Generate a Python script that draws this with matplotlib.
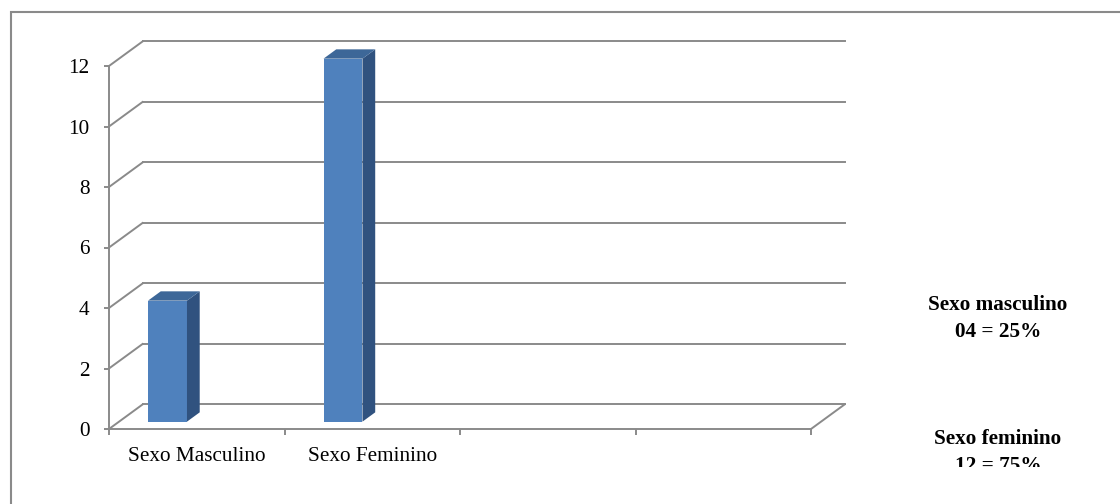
import matplotlib.pyplot as plt
import matplotlib.patches as mpatches
from matplotlib.transforms import Bbox, TransformedBbox
import numpy as np

plt.rcParams["font.family"] = ["Liberation Serif", "DejaVu Serif"]

categorias = ["Sexo Masculino", "Sexo Feminino"]
valores = [4, 12]
n_slots = 4
y_ticks = [0, 2, 4, 6, 8, 10, 12]
notas = [("Sexo masculino", "04 = 25%"), ("Sexo feminino", "12 = 75%")]

GRIS = "#8a8a8a"
AZUL = "#4f81bd"
AZUL_LADO = "#30527f"
AZUL_TOPE = "#3d6798"

# profundidad de la caja 3D en unidades de datos
DX, DY = 0.191, 0.81

fig = plt.figure(figsize=(11.2, 5.04), dpi=100)
ax = fig.add_axes([0, 0, 1, 1])
ax.set_xlim(-109 / 175.5, (1120 - 109) / 175.5)
ax.set_ylim(-75 / 30.25, (504 - 75) / 30.25)
ax.patch.set_alpha(0)

for s in ["top", "right"]:
    ax.spines[s].set_visible(False)
ax.spines["left"].set_position(("data", 0))
ax.spines["bottom"].set_position(("data", 0))
ax.spines["left"].set_bounds(0, max(y_ticks))
ax.spines["bottom"].set_bounds(0, n_slots)
for s in ["left", "bottom"]:
    ax.spines[s].set_color(GRIS)
    ax.spines[s].set_linewidth(1.4)

ax.set_yticks(y_ticks)
ax.tick_params(axis="y", length=3.6, width=1.4, color=GRIS, pad=10.6, labelsize=15.3)
ax.set_xticks(range(n_slots + 1))
ax.set_xticklabels([])
ax.tick_params(axis="x", which="major", length=4.5, width=1.4, color=GRIS)
ax.set_xticks(np.arange(len(categorias)) + 0.5, minor=True)
ax.set_xticklabels(categorias, minor=True)
ax.tick_params(axis="x", which="minor", length=0, pad=13.3, labelsize=15.3)

# paredes: lineas de fondo y diagonales laterales
for v in y_ticks:
    ax.plot([DX, n_slots + DX], [v + DY, v + DY], color=GRIS, lw=1.4, zorder=1)
    ax.plot([0, DX], [v, v + DY], color=GRIS, lw=1.4, zorder=1)
ax.plot([n_slots, n_slots + DX], [0, DY], color=GRIS, lw=1.4, zorder=1)

# barras con cara frontal, lateral y superior
f, g = 0.30, 0.38
bw = 0.222
x0 = np.arange(len(valores)) + 0.165 + f * DX
base = f * DY
ddx, ddy = g * DX, g * DY
ax.bar(x0, valores, width=bw, bottom=base, align="edge", color=AZUL, zorder=3)
for x, v in zip(x0, valores):
    lado = [(x + bw, base), (x + bw + ddx, base + ddy),
            (x + bw + ddx, base + v + ddy), (x + bw, base + v)]
    tope = [(x, base + v), (x + bw, base + v),
            (x + bw + ddx, base + v + ddy), (x + ddx, base + v + ddy)]
    ax.add_patch(mpatches.Polygon(lado, closed=True, color=AZUL_LADO, lw=0, zorder=3))
    ax.add_patch(mpatches.Polygon(tope, closed=True, color=AZUL_TOPE, lw=0, zorder=3))

# marco exterior
fig.patches.append(mpatches.Rectangle((11 / 1120, -0.1), 1.2, 492 / 504 + 0.1,
                                      transform=fig.transFigure, fill=False,
                                      ec=GRIS, lw=1.5))

# notas de la derecha (la ultima queda cortada por el borde)
corte = TransformedBbox(Bbox.from_extents(0, 37 / 504, 1, 1), fig.transFigure)
ys = [(310, 337), (444, 471)]
for (t1, t2), (b1, b2) in zip(notas, ys):
    for t, b in [(t1, b1), (t2, b2)]:
        txt = fig.text(998 / 1120, 1 - b / 504, t, ha="center", va="baseline",
                       fontsize=15.3, fontweight="bold")
        txt.set_clip_box(corte)
        txt.set_clip_on(True)

fig.savefig("out.png", dpi=100)
